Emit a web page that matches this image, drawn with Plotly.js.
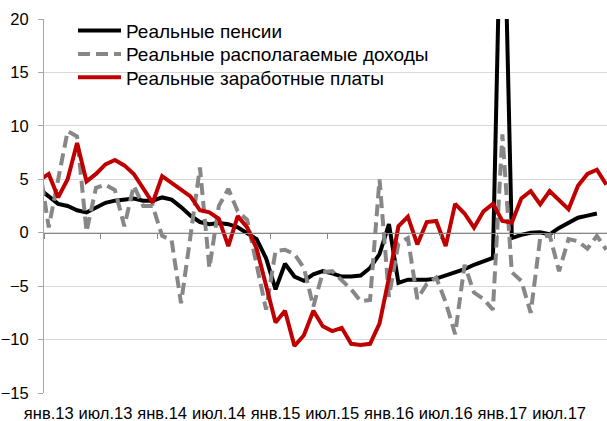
<!DOCTYPE html>
<html><head><meta charset="utf-8">
<script src="https://cdn.plot.ly/plotly-3.0.1.min.js"></script>
<style>html,body{margin:0;padding:0;background:#fff}#chart{width:607px;height:421px}</style>
</head><body><div id="chart"></div>
<script>
const months = ['дек.12',
 'янв.13','фев.13','мар.13','апр.13','май.13','июн.13','июл.13','авг.13','сен.13','окт.13','ноя.13','дек.13',
 'янв.14','фев.14','мар.14','апр.14','май.14','июн.14','июл.14','авг.14','сен.14','окт.14','ноя.14','дек.14',
 'янв.15','фев.15','мар.15','апр.15','май.15','июн.15','июл.15','авг.15','сен.15','окт.15','ноя.15','дек.15',
 'янв.16','фев.16','мар.16','апр.16','май.16','июн.16','июл.16','авг.16','сен.16','окт.16','ноя.16','дек.16',
 'янв.17','фев.17','мар.17','апр.17','май.17','июн.17','июл.17','авг.17','сен.17','окт.17','ноя.17','дек.17'];
const tickLabels = ['янв.13','июл.13','янв.14','июл.14','янв.15','июл.15','янв.16','июл.16','янв.17','июл.17'];
const seriesNames = ['Реальные пенсии','Реальные располагаемые доходы','Реальные заработные платы'];

const pensions = [4.1,
 3.4,2.7,2.5,2.1,1.9,2.3,2.8,3.0,3.1,3.2,3.0,3.0,
 3.3,3.1,2.4,1.6,1.0,0.8,0.9,0.8,0.5,0.0,-0.6,-2.4,
 -5.3,-2.9,-4.1,-4.5,-3.9,-3.6,-3.8,-4.1,-4.1,-4.0,-3.3,-2.0,
 0.8,-4.7,-4.4,-4.4,-4.4,-4.3,-4.0,-3.7,-3.4,-3.0,-2.7,-2.35,
 38,-0.5,-0.2,0.0,0.05,-0.15,0.45,0.9,1.4,1.6,1.8,null];
const incomes = [6.3,
 0.5,5.0,9.5,9.0,0.1,4.2,4.5,4.0,0.6,4.4,2.5,2.5,
 -0.3,-0.7,-6.6,-0.3,6.1,-3.3,2.5,4.1,2.0,1.2,-3.0,-7.2,
 -1.7,-1.6,-2.0,-3.3,-6.9,-3.7,-3.6,-4.5,-5.3,-6.4,-6.3,5.0,
 -6.0,-1.0,-0.5,-6.2,-4.8,-4.2,-6.5,-9.5,-3.0,-5.6,-6.2,-7.2,
 9.2,-3.7,-4.5,-7.5,-0.5,-0.2,-3.6,-0.6,-0.8,-1.5,-0.3,-1.6];
const wages = [4.9,
 5.5,3.3,5.0,8.4,4.8,5.5,6.4,6.8,6.3,5.5,4.2,2.8,
 5.3,4.7,4.0,3.4,2.1,1.9,1.3,-1.25,1.55,0.5,-1.5,-4.8,
 -8.4,-7.3,-10.6,-9.6,-7.3,-8.75,-9.2,-8.9,-10.4,-10.5,-10.4,-8.5,
 -4.2,0.6,1.5,-1.1,1.0,1.1,-1.25,2.7,1.8,0.47,2.0,2.7,
 1.1,0.94,3.2,3.9,2.65,3.9,3.1,2.2,4.4,5.5,5.9,4.5];

const xIdx = months.map((m, i) => i);
const tickIdx = tickLabels.map(t => months.indexOf(t));
const font = 'Arial, "Liberation Sans", sans-serif';

const traces = [
  {x: xIdx, y: pensions, name: seriesNames[0], type: 'scatter', mode: 'lines', legend: 'legend',
   line: {color: '#000000', width: 4}, text: months, hoverinfo: 'text+y'},
  {x: xIdx, y: incomes, name: seriesNames[1], type: 'scatter', mode: 'lines', legend: 'legend2',
   line: {color: '#878787', width: 4, dash: '12px,6px'}, text: months, hoverinfo: 'text+y'},
  {x: xIdx, y: wages, name: seriesNames[2], type: 'scatter', mode: 'lines', legend: 'legend3',
   line: {color: '#c00000', width: 4}, text: months, hoverinfo: 'text+y'},
  {x: [xIdx[0]], y: [null], xaxis: 'x2', showlegend: false, hoverinfo: 'skip', mode: 'lines'}
];

const legendBase = {x: 0.0515, xanchor: 'left', yanchor: 'top', bgcolor: 'rgba(0,0,0,0)',
  borderwidth: 0, font: {family: font, size: 19, color: '#000000'}, itemwidth: 43};

const layout = {
  width: 607, height: 421,
  margin: {l: 44, r: 0, t: 19, b: 28, pad: 0},
  paper_bgcolor: '#ffffff', plot_bgcolor: '#ffffff',
  font: {family: font, color: '#000000', size: 16.5},
  showlegend: true,
  legend: Object.assign({}, legendBase, {y: 1.0195}),
  legend2: Object.assign({}, legendBase, {y: 0.957}),
  legend3: Object.assign({}, legendBase, {y: 0.8947}),
  shapes: [{type: 'rect', xref: 'paper', yref: 'paper', x0: 13/563, x1: 413/563, y0: 0.792, y1: 1,
            fillcolor: '#ffffff', line: {width: 0}, layer: 'between'}],
  xaxis: {range: [0.5, 60.07], tickmode: 'array', tickvals: tickIdx, ticktext: tickLabels,
          showgrid: false, zeroline: false, showline: false, ticks: '', tickangle: 0, ticklabelstandoff: 8,
          tickfont: {family: font, size: 16.5, color: '#000000'}},
  xaxis2: {overlaying: 'x', matches: 'x', anchor: 'free', position: 15/35,
           tickmode: 'array', tickvals: tickIdx.map(v => v - 0.5),
           ticks: 'outside', ticklen: 5, tickcolor: '#868686', showticklabels: false,
           showline: true, linecolor: '#868686', linewidth: 1, showgrid: false, zeroline: false},
  yaxis: {range: [-15, 20], tickmode: 'array', tickvals: [-15,-10,-5,0,5,10,15,20],
          showgrid: true, gridcolor: '#d9d9d9', gridwidth: 1, zeroline: false,
          showline: true, linecolor: '#a6a6a6', linewidth: 1,
          ticks: 'outside', ticklen: 5, tickcolor: '#a6a6a6', ticklabelstandoff: 6,
          tickfont: {family: font, size: 16.5, color: '#000000'}}
};

Plotly.newPlot('chart', traces, layout, {displayModeBar: false, staticPlot: true});
</script>
</body></html>
